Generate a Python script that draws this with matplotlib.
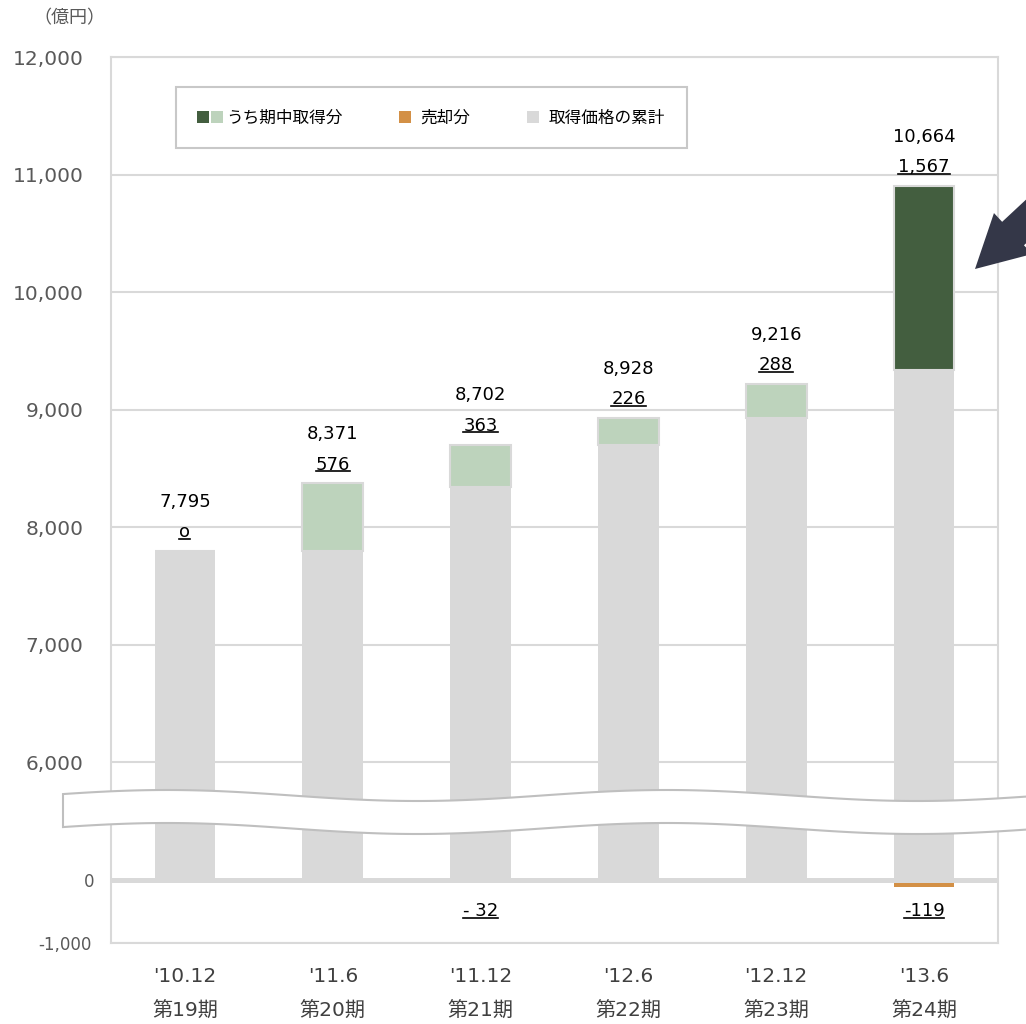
import numpy as np
import matplotlib
matplotlib.use('Agg')
import matplotlib.pyplot as plt
from matplotlib.patches import Polygon, FancyArrow
from matplotlib.lines import Line2D
from matplotlib.legend_handler import HandlerTuple
from matplotlib.transforms import IdentityTransform

plt.rcParams['font.family'] = ['DejaVu Sans', 'Noto Sans CJK JP']

# ---- data ----
periods = ["'10.12", "'11.6", "'11.12", "'12.6", "'12.12", "'13.6"]
terms = ['第19期', '第20期', '第21期', '第22期', '第23期', '第24期']
base = [7795, 7795, 8339, 8702, 8928, 9335]      # gray part as drawn
acquired = [0, 576, 363, 226, 288, 1567]         # acquired during period
sold = [0, 0, -32, 0, 0, -119]                   # sold during period
totals = [7795, 8371, 8702, 8928, 9216, 10664]   # cumulative labels
yticks = [-1000, 0, 6000, 7000, 8000, 9000, 10000, 11000, 12000]
legend_labels = ['うち期中取得分', '売却分', '取得価格の累計']

GRAY = '#D9D9D9'
LIGHT = '#BDD3BC'
DARK = '#435E3F'
ORANGE = '#D39046'
acq_colors = [LIGHT] * 5 + [DARK]


# broken axis: 0..6000 squeezed into one step, negatives on a smaller scale
def fwd(v):
    v = np.asarray(v, dtype=float)
    return np.where(v >= 6000, v, np.where(v >= 0, 5000 + v / 6, 5000 + 0.54 * v))


def inv(u):
    u = np.asarray(u, dtype=float)
    return np.where(u >= 6000, u, np.where(u >= 5000, (u - 5000) * 6, (u - 5000) / 0.54))


fig = plt.figure(figsize=(10.26, 10.24), dpi=100)
ax = fig.add_axes([111 / 1026, 81 / 1024, 887 / 1026, 886 / 1024])
ax.set_yscale('function', functions=(fwd, inv))
ax.set_ylim(-1000, 12000)
ax.set_xlim(-0.5, 5.5)

x = np.arange(len(periods))
w = 0.41
ax.bar(x, base, width=w, color=GRAY, zorder=2)
ax.bar(x, acquired, width=w, bottom=base, color=acq_colors, edgecolor=GRAY, linewidth=1.5, zorder=2)
ax.bar(x, sold, width=w, color=ORANGE, zorder=2)
ax.axhline(0, color=GRAY, lw=3.6, zorder=3)

ax.yaxis.grid(True, color=GRAY, lw=1.5)
ax.set_axisbelow(True)
for s in ax.spines.values():
    s.set_color(GRAY)
    s.set_linewidth(1.5)

ax.set_yticks(yticks, [f'{v:,}' for v in yticks])
ax.tick_params(axis='y', length=0, pad=20, labelsize=14.5, labelcolor='#595959')
for t, v in zip(ax.yaxis.get_major_ticks(), yticks):
    if v <= 0:
        t.label1.set_fontsize(12)
        t.set_pad(12 if v == 0 else 14)

ax.set_xticks(x, [f'{p}\n{t}' for p, t in zip(periods, terms)])
ax.tick_params(axis='x', length=0, pad=17, labelsize=14.5, labelcolor='#404040')
for lbl in ax.get_xticklabels():
    lbl.set_linespacing(2.05)

# value labels
underlined = []
for i in x:
    top = base[i] + acquired[i]
    ax.annotate(f'{totals[i]:,}', (i, top), xytext=(0, 35.5), textcoords='offset points',
                ha='center', va='center', fontsize=13, color='black')
    inc = f'{acquired[i]:,}' if acquired[i] else 'o'
    underlined.append(ax.annotate(inc, (i, top), xytext=(0, 13.5), textcoords='offset points',
                                  ha='center', va='center', fontsize=13, color='black'))
    if sold[i]:
        txt = f'-{abs(sold[i]):>3}'
        underlined.append(ax.annotate(txt, (i, 0), xytext=(0, -23), textcoords='offset points',
                                      ha='center', va='center', fontsize=13, color='black'))

# legend
handles = [
    (Line2D([], [], marker='s', ls='none', ms=8.5, mew=0, color=DARK),
     Line2D([], [], marker='s', ls='none', ms=8.5, mew=0, color=LIGHT)),
    Line2D([], [], marker='s', ls='none', ms=8.5, mew=0, color=ORANGE),
    Line2D([], [], marker='s', ls='none', ms=8.5, mew=0, color=GRAY),
]
leg = ax.legend(handles, legend_labels, handler_map={tuple: HandlerTuple(ndivide=None, pad=0.15)},
                ncol=3, loc='upper left', bbox_to_anchor=(176 / 1026, 1 - 87 / 1024),
                bbox_transform=fig.transFigure, frameon=True, fancybox=False,
                edgecolor='#C8C8C8', framealpha=1, fontsize=12, handlelength=1.5,
                handletextpad=0.2, columnspacing=3.0, borderpad=1.3, borderaxespad=0)
leg.get_frame().set_linewidth(1.5)

fig.text(69 / 1026, 1 - 18 / 1024, '（億円）', ha='center', va='center', fontsize=13,
         color='#595959', family='Noto Sans CJK JP')

# underline the increment labels
fig.canvas.draw()
r = fig.canvas.get_renderer()
for t in underlined:
    bb = t.get_window_extent(r)
    yl = bb.y0 + 2.5
    fig.add_artist(Line2D([bb.x0, bb.x1], [yl, yl], color='black', lw=1.2,
                          transform=IdentityTransform(), zorder=6))

# axis break band (pixel coords)
xs = np.linspace(63, 1040, 200)
top_edge = 795.5 - 5.5 * np.cos(2 * np.pi * (xs - 167) / 500)
bot_edge = top_edge + 33
pts = np.concatenate([np.column_stack([xs, 1024 - top_edge]),
                      np.column_stack([xs[::-1], 1024 - bot_edge[::-1]])])
band = Polygon(pts, closed=True, facecolor='white', edgecolor='#BFBFBF', lw=1.5,
               transform=IdentityTransform(), zorder=10)
fig.add_artist(band)

# pointer arrow (pixel coords)
arrow = FancyArrow(1092, 1024 - 160, -117, -109, width=32, head_width=56, head_length=52,
                   length_includes_head=True, color='#343748', lw=0,
                   transform=IdentityTransform(), zorder=10)
fig.add_artist(arrow)

fig.savefig('out.png', dpi=100)
